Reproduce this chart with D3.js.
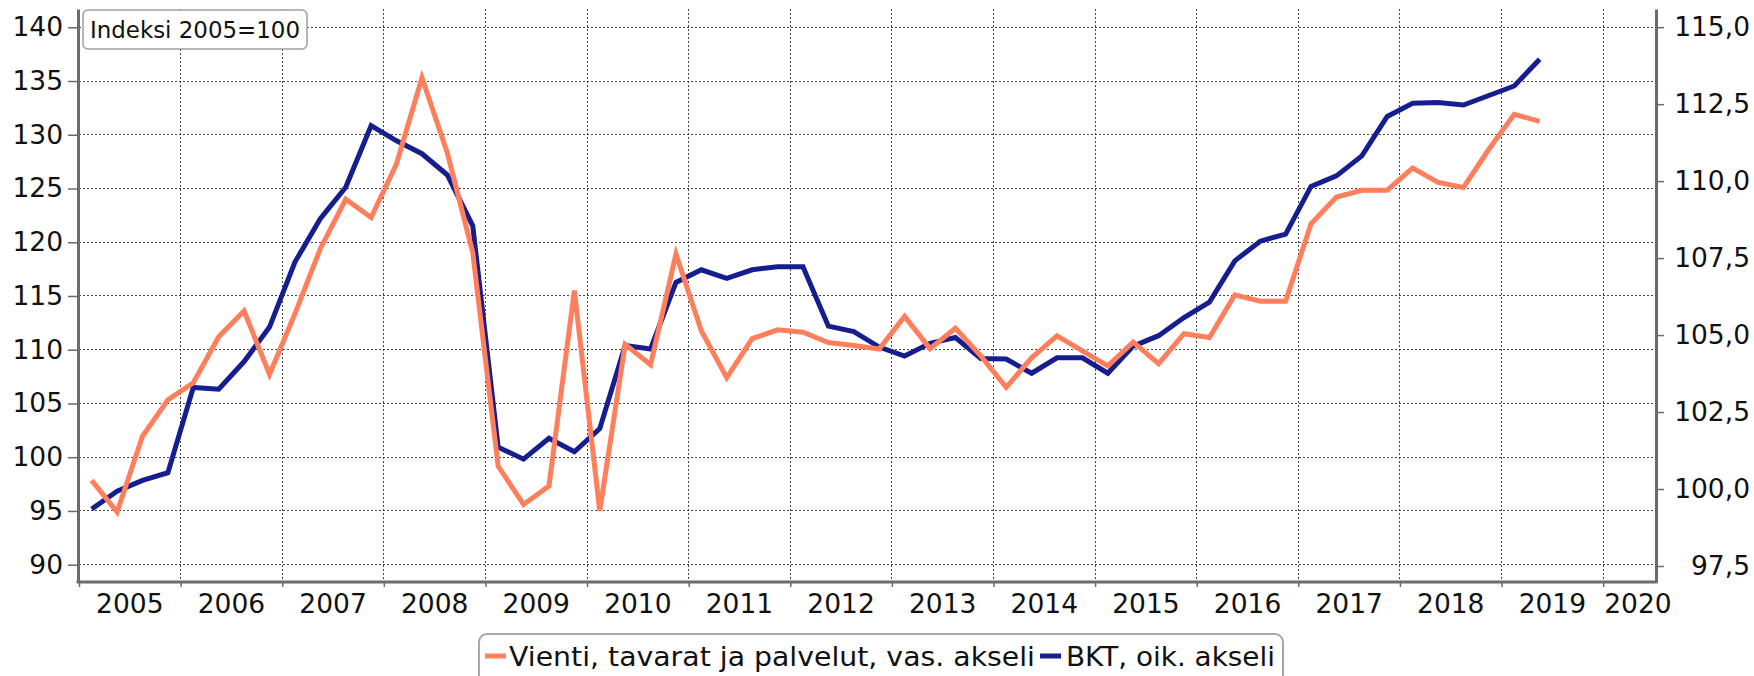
<!DOCTYPE html>
<html>
<head>
<meta charset="utf-8">
<script src="https://cdn.jsdelivr.net/npm/d3@7"></script>
<style>
  html, body { margin: 0; padding: 0; background: #fff; }
  svg { display: block; font-family: "DejaVu Sans", Verdana, sans-serif; }
</style>
</head>
<body>
<svg id="chart" width="1754" height="676"></svg>
<script>
// ---- data ----
const quarters = [
  "2005Q1","2005Q2","2005Q3","2005Q4","2006Q1","2006Q2","2006Q3","2006Q4",
  "2007Q1","2007Q2","2007Q3","2007Q4","2008Q1","2008Q2","2008Q3","2008Q4",
  "2009Q1","2009Q2","2009Q3","2009Q4","2010Q1","2010Q2","2010Q3","2010Q4",
  "2011Q1","2011Q2","2011Q3","2011Q4","2012Q1","2012Q2","2012Q3","2012Q4",
  "2013Q1","2013Q2","2013Q3","2013Q4","2014Q1","2014Q2","2014Q3","2014Q4",
  "2015Q1","2015Q2","2015Q3","2015Q4","2016Q1","2016Q2","2016Q3","2016Q4",
  "2017Q1","2017Q2","2017Q3","2017Q4","2018Q1","2018Q2","2018Q3","2018Q4",
  "2019Q1","2019Q2"
];
// Vienti, tavarat ja palvelut (left axis)
const vienti = [
  97.85, 94.9, 101.95, 105.33, 106.93, 111.2, 113.6, 107.7,
  113.34, 119.4, 124.0, 122.3, 127.3, 135.3, 128.3, 119.04,
  99.17, 95.6, 97.32, 115.5, 95.0, 110.5, 108.6, 118.9,
  111.74, 107.4, 111.03, 111.85, 111.63, 110.67, 110.4, 110.07,
  113.1, 110.1, 112.0, 109.43, 106.5, 109.25, 111.3, 109.9,
  108.5, 110.7, 108.7, 111.49, 111.14, 115.1, 114.52, 114.52,
  121.71, 124.2, 124.84, 124.84, 126.9, 125.56, 125.1, 128.65,
  131.9, 131.25
];
// BKT (right axis)
const bkt = [
  99.35, 99.93, 100.28, 100.53, 103.3, 103.24, 104.14, 105.26,
  107.37, 108.78, 109.8, 111.8, 111.31, 110.89, 110.2, 108.55,
  101.36, 100.97, 101.65, 101.21, 101.96, 104.66, 104.55, 106.71,
  107.12, 106.84, 107.12, 107.22, 107.22, 105.29, 105.11, 104.61,
  104.32, 104.73, 104.92, 104.24, 104.22, 103.76, 104.26, 104.26,
  103.76, 104.64, 104.98, 105.57, 106.07, 107.41, 108.05, 108.28,
  109.83, 110.17, 110.82, 112.1, 112.53, 112.55, 112.47, 112.78,
  113.09, 113.96
];
const years = [2005,2006,2007,2008,2009,2010,2011,2012,2013,2014,2015,2016,2017,2018,2019,2020];
const leftTicks = [90, 95, 100, 105, 110, 115, 120, 125, 130, 135, 140];
const rightTicks = [97.5, 100, 102.5, 105, 107.5, 110, 112.5, 115];
const seriesNames = ["Vienti, tavarat ja palvelut, vas. akseli", "BKT, oik. akseli"];
const seriesColors = ["#ff7f5c", "#161d8e"];
const unitLabel = "Indeksi 2005=100";

// ---- layout ----
const L = 79, R = 1656, T = 9, B = 582;
const svg = d3.select("#chart");

const qTime = q => +q.slice(0,4) + (+q.slice(5) - 1) * 0.25 + 0.125;

const x = d3.scaleLinear().domain([2005, 2020.52]).range([L, R]);
const yL = d3.scaleLinear().domain([88.39, 141.70]).range([B, T]);
const yR = d3.scaleLinear().domain([96.98, 115.59]).range([B, T]);

const fmtComma = d => d3.format(".1f")(d).replace(".", ",");

// grid
const grid = svg.append("g");
grid.selectAll("line.h").data(leftTicks).join("line")
  .attr("x1", L).attr("x2", R)
  .attr("y1", d => yL(d)).attr("y2", d => yL(d))
  .attr("stroke", "#444").attr("stroke-width", 1).attr("stroke-dasharray", "2,2")
  .attr("shape-rendering", "crispEdges");
grid.selectAll("line.v").data(years.filter(y => y > 2005)).join("line")
  .attr("x1", d => x(d)).attr("x2", d => x(d))
  .attr("y1", T).attr("y2", B)
  .attr("stroke", "#444").attr("stroke-width", 1).attr("stroke-dasharray", "2,2")
  .attr("shape-rendering", "crispEdges");

// lines
const lineL = d3.line().x((d, i) => x(qTime(quarters[i]))).y(d => yL(d));
const lineR = d3.line().x((d, i) => x(qTime(quarters[i]))).y(d => yR(d));
svg.append("path").datum(bkt).attr("d", lineR)
  .attr("fill", "none").attr("stroke", seriesColors[1]).attr("stroke-width", 5);
svg.append("path").datum(vienti).attr("d", lineL)
  .attr("fill", "none").attr("stroke", seriesColors[0]).attr("stroke-width", 5);

const axisColor = "#6b6b6b";
function styleAxis(g) {
  g.select(".domain").attr("stroke", axisColor).attr("stroke-width", 3);
  g.selectAll(".tick line").attr("stroke", axisColor).attr("stroke-width", 1.5);
  g.selectAll(".tick text").attr("fill", "#111").style("font-size", "26.5px")
    .style("font-family", "'DejaVu Sans', Verdana, sans-serif");
}

// left axis
const gL = svg.append("g").attr("transform", `translate(${L - 1},0)`)
  .call(d3.axisLeft(yL).tickValues(leftTicks).tickSize(10).tickSizeOuter(0).tickPadding(5));
styleAxis(gL);

// right axis
const gR = svg.append("g").attr("transform", `translate(${R},0)`)
  .call(d3.axisRight(yR).tickValues(rightTicks).tickSize(8).tickSizeOuter(0).tickFormat(fmtComma));
styleAxis(gR);
gR.selectAll(".tick text").attr("text-anchor", "end").attr("x", 1750 - R);

// bottom axis
const gB = svg.append("g").attr("transform", `translate(0,${B})`)
  .call(d3.axisBottom(x).tickValues(years).tickSize(5).tickSizeOuter(0).tickFormat(""));
styleAxis(gB);
gB.select(".domain").attr("d", `M${L - 2.5},0H${R + 1.5}`);

// year labels
svg.append("g").selectAll("text").data(years).join("text")
  .attr("x", d => d < 2020 ? x(d + 0.5) : x(d) + 1)
  .attr("y", 613)
  .attr("text-anchor", d => d < 2020 ? "middle" : "start")
  .attr("fill", "#111").style("font-size", "26.5px")
  .text(d => d);

// unit label box
svg.append("rect").attr("x", 83).attr("y", 10).attr("width", 224).attr("height", 39)
  .attr("rx", 5).attr("fill", "#fff").attr("stroke", "#a0a0a0").attr("stroke-width", 1.5);
svg.append("text").attr("x", 90).attr("y", 38).attr("fill", "#111")
  .attr("textLength", 210).attr("lengthAdjust", "spacingAndGlyphs")
  .style("font-size", "22.5px").text(unitLabel);

// legend
const lg = svg.append("g");
lg.append("rect").attr("x", 479).attr("y", 634).attr("width", 804).attr("height", 70)
  .attr("rx", 8).attr("fill", "#fff").attr("stroke", "#a8a8a8").attr("stroke-width", 2);
const legendItems = [
  { name: seriesNames[0], color: seriesColors[0], mx: 485, tx: 509, w: 526 },
  { name: seriesNames[1], color: seriesColors[1], mx: 1040, tx: 1066, w: 209 }
];
legendItems.forEach(it => {
  lg.append("rect").attr("x", it.mx).attr("y", 653.5).attr("width", 21).attr("height", 5)
    .attr("fill", it.color);
  lg.append("text").attr("x", it.tx).attr("y", 666).attr("fill", "#111")
    .attr("textLength", it.w).attr("lengthAdjust", "spacingAndGlyphs")
    .style("font-size", "26px").text(it.name);
});
</script>
</body>
</html>
